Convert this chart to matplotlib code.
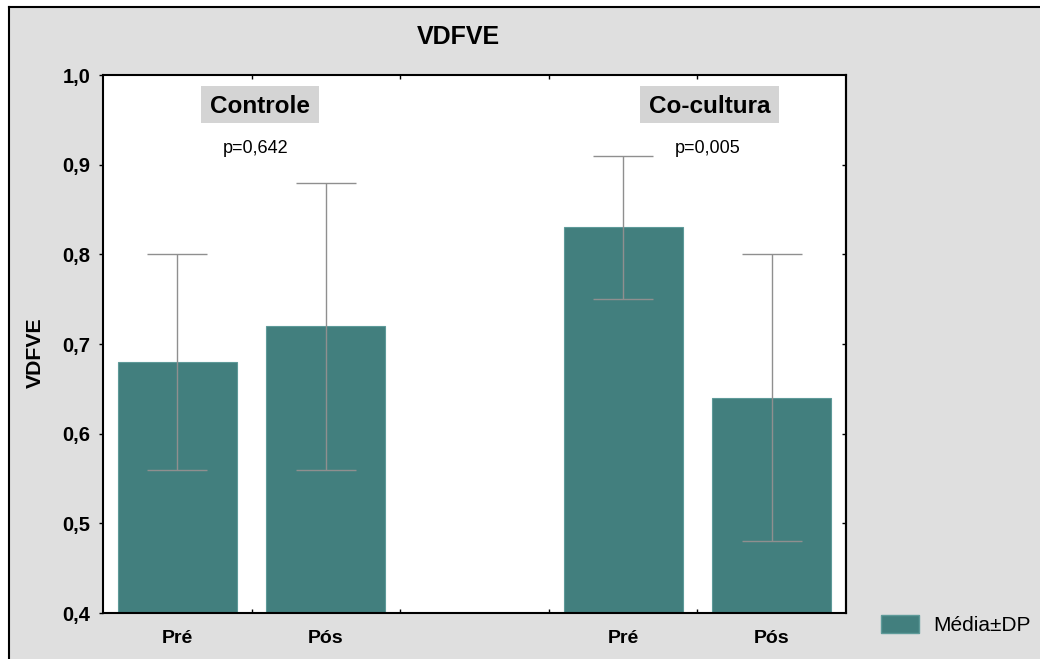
import matplotlib
matplotlib.use("Agg")
import matplotlib.pyplot as plt
from matplotlib.patches import Rectangle, Patch
from matplotlib.lines import Line2D

plt.rcParams['font.family'] = ['Liberation Sans', 'DejaVu Sans']

groups = ["Controle", "Co-cultura"]
p_values = ["p=0,642", "p=0,005"]
tick_labels = ["Pré", "Pós", "Pré", "Pós"]
means = [0.68, 0.72, 0.83, 0.64]
sds = [0.12, 0.16, 0.08, 0.16]
positions = [0.5, 1.5, 3.5, 4.5]

W, H = 1040, 659
fig = plt.figure(figsize=(W / 100, H / 100), dpi=100)
fig.patch.set_facecolor('white')

# grey panel with black left/top border
bg = Rectangle((9 / W, 0), 1 - 9 / W, 1 - 7 / H, transform=fig.transFigure,
               facecolor='#dfdfdf', edgecolor='none', zorder=-10)
fig.add_artist(bg)
fig.add_artist(Line2D([9 / W, 9 / W], [0, 1 - 7 / H], transform=fig.transFigure, color='black', lw=1.5, zorder=-5))
fig.add_artist(Line2D([9 / W, 1], [1 - 7 / H, 1 - 7 / H], transform=fig.transFigure, color='black', lw=1.5, zorder=-5))

ax = fig.add_axes([103 / W, (H - 613) / H, 743 / W, 538 / H])
ax.set_zorder(1)
ax.set_facecolor('white')

bar_color = '#427f7e'
ax.bar(positions, means, width=0.8, bottom=0, color=bar_color, edgecolor='#5e9a99', linewidth=0.8, zorder=2)
ax.errorbar(positions, means, yerr=sds, fmt='none', ecolor='#8f8f8f', elinewidth=1.0,
            capsize=21.5, capthick=1.0, zorder=3)

ax.set_xlim(0, 5)
ax.set_ylim(0.4, 1.0)

ax.set_yticks([0.4, 0.5, 0.6, 0.7, 0.8, 0.9, 1.0])
ax.set_yticklabels(['0,4', '0,5', '0,6', '0,7', '0,8', '0,9', '1,0'], fontsize=14.5, fontweight='bold')
ax.tick_params(axis='y', which='major', direction='out', length=3, width=1, pad=6, right=False)

ax.set_xticks(positions)
ax.set_xticklabels(tick_labels, fontsize=14, fontweight='bold')
ax.tick_params(axis='x', which='major', length=0, pad=12)
ax.set_xticks([1, 2, 3, 4], minor=True)
ax.tick_params(axis='x', which='minor', direction='in', length=3, width=1, top=True, bottom=True)

# right ticks inward
ax2 = ax.secondary_yaxis('right')
ax2.set_yticks([0.5, 0.6, 0.7, 0.8, 0.9])
ax2.tick_params(direction='in', length=3, width=1, labelright=False)

for s in ax.spines.values():
    s.set_linewidth(1.5)
ax2.spines['right'].set_linewidth(1.5)

fig.text(35 / W, 1 - 353 / H, 'VDFVE', rotation=90, ha='center', va='center',
         fontsize=15.3, fontweight='bold')

# group labels and p-values
label_x = [1.057, 4.08]
p_x = [1.03, 4.068]
group_texts = []
for gx, px, g, pv in zip(label_x, p_x, groups, p_values):
    t = ax.text(gx, 0.9576, g, ha='center', va='baseline', fontsize=17.5, fontweight='bold', zorder=4)
    group_texts.append(t)
    ax.text(px, 0.913, pv, ha='center', va='baseline', fontsize=13, zorder=4)

fig.text(458 / W, 1 - 37 / H, 'VDFVE', ha='center', va='center', fontsize=18, fontweight='bold')

leg = fig.legend(handles=[Patch(facecolor=bar_color, edgecolor='#5e9a99', label='Média±DP')],
                 loc='center left', bbox_to_anchor=(881 / W, 1 - 625 / H), frameon=False,
                 fontsize=15, handlelength=1.8, handleheight=1.0, handletextpad=0.7,
                 borderpad=0, borderaxespad=0)

# grey boxes behind group labels, sized from the rendered text
fig.canvas.draw()
renderer = fig.canvas.get_renderer()
for t in group_texts:
    bb = t.get_window_extent(renderer)
    x0, x1 = bb.x0 - 9, bb.x1 + 9
    y_top = H - 86
    y_bot = H - 123
    ax.add_patch(Rectangle((x0 / W, y_bot / H), (x1 - x0) / W, (y_top - y_bot) / H,
                           transform=fig.transFigure, facecolor='#d4d4d4', edgecolor='none',
                           zorder=3.5))

fig.savefig('out.png', dpi=100)
